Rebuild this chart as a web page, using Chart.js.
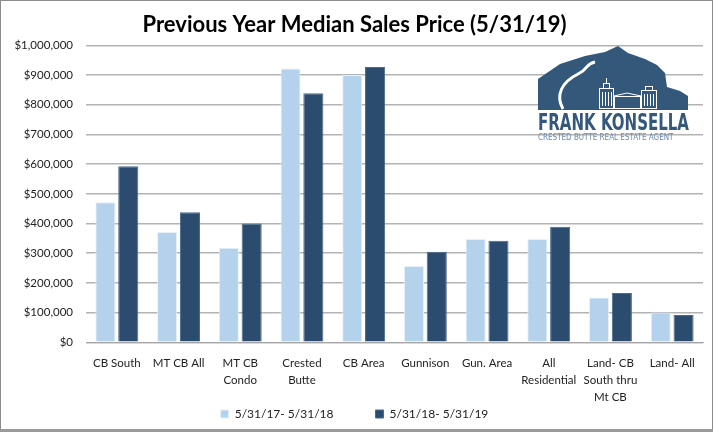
<!DOCTYPE html>
<html>
<head>
<meta charset="utf-8">
<script src="https://cdn.jsdelivr.net/npm/chart.js@4/dist/chart.umd.min.js"></script>
<style>
html,body{margin:0;padding:0;background:#fff;}
#wrap{width:713px;height:432px;position:relative;}
</style>
</head>
<body>
<div id="wrap"><canvas id="c" width="713" height="432"></canvas></div>
<script>
const categories = [
  "CB South", "MT CB All", ["MT CB", "Condo"], ["Crested", "Butte"], "CB Area",
  "Gunnison", "Gun. Area", ["All", "Residential"], ["Land- CB", "South thru", "Mt CB"], "Land- All"
];
const seriesNames = ["5/31/17- 5/31/18", "5/31/18- 5/31/19"];
const prevYear = [472000, 371000, 318000, 922000, 900000, 257000, 348000, 348000, 151000, 100000];
const currYear = [593000, 438000, 400000, 839000, 927000, 305000, 342000, 389000, 166000, 92000];
const yTicks = [0, 100000, 200000, 300000, 400000, 500000, 600000, 700000, 800000, 900000, 1000000];

const FONT = "Lato, 'Open Sans', sans-serif";
const LEGEND_PAD = 42;
const LEGEND_H = 10;

const legendFix = {
  id: 'legendFix',
  beforeUpdate(chart) {
    const lg = chart.legend;
    if (lg && !lg._fixed) {
      lg._fixed = true;
      const fit = lg.fit.bind(lg);
      lg.fit = function () { fit(); this.height = LEGEND_H; };
      const draw = lg.draw.bind(lg);
      lg.draw = function () {
        const t = this.top;
        this.top = t - LEGEND_PAD - 10;
        draw();
        this.top = t;
      };
    }
  }
};

const frame = {
  id: 'frame',
  afterDraw(chart) {
    const ctx = chart.ctx;
    ctx.save();
    ctx.fillStyle = '#34587a';
    ctx.beginPath();
    ctx.moveTo(538, 110);
    ctx.lineTo(538, 79);
    ctx.lineTo(560, 64);
    ctx.lineTo(585, 56);
    ctx.lineTo(605, 52);
    ctx.lineTo(618, 46);
    ctx.lineTo(628, 53);
    ctx.lineTo(645, 59);
    ctx.lineTo(657, 65);
    ctx.lineTo(665, 73);
    ctx.lineTo(667, 87);
    ctx.lineTo(680, 91);
    ctx.lineTo(688, 96);
    ctx.lineTo(688, 110);
    ctx.closePath();
    ctx.fill();
    ctx.strokeStyle = '#ffffff';
    ctx.lineWidth = 3;
    ctx.beginPath();
    ctx.moveTo(563, 109);
    ctx.bezierCurveTo(555, 95, 562, 82, 578, 74);
    ctx.bezierCurveTo(590, 68, 585, 64, 595, 62);
    ctx.stroke();
    ctx.lineWidth = 1;
    ctx.strokeRect(599.5, 88.5, 14, 20);
    ctx.strokeRect(603.5, 83.5, 6, 5);
    ctx.beginPath(); ctx.moveTo(606.5, 78); ctx.lineTo(606.5, 83); ctx.stroke();
    ctx.strokeRect(614.5, 96.5, 26, 12);
    ctx.beginPath(); ctx.moveTo(614, 96); ctx.lineTo(627, 93); ctx.lineTo(641, 96); ctx.stroke();
    ctx.strokeRect(641.5, 90.5, 15, 18);
    ctx.strokeRect(645.5, 86.5, 7, 4);
    for (let x = 602; x < 612; x += 3) { ctx.beginPath(); ctx.moveTo(x + 0.5, 92); ctx.lineTo(x + 0.5, 106); ctx.stroke(); }
    for (let x = 644; x < 656; x += 3) { ctx.beginPath(); ctx.moveTo(x + 0.5, 94); ctx.lineTo(x + 0.5, 106); ctx.stroke(); }
    ctx.fillStyle = '#34587a';
    ctx.textBaseline = 'alphabetic';
    ctx.textAlign = 'left';
    ctx.font = "bold 23px 'DejaVu Sans Condensed', 'DejaVu Sans', sans-serif";
    ctx.fillText('FRANK KONSELLA', 538, 130, 151);
    ctx.fillStyle = '#6a8aab';
    ctx.font = "8px 'DejaVu Sans Condensed', 'DejaVu Sans', sans-serif";
    ctx.fillText('CRESTED BUTTE REAL ESTATE AGENT', 538, 140, 151);
    ctx.strokeStyle = '#8c8c8c';
    ctx.lineWidth = 1;
    ctx.strokeRect(0.5, 0.5, 712, 430);
    ctx.fillStyle = '#9a9a9a';
    ctx.fillRect(0, 429, 713, 3);
    ctx.restore();
  }
};

new Chart(document.getElementById('c'), {
  type: 'bar',
  data: {
    labels: categories,
    datasets: [
      { label: seriesNames[0], data: prevYear, backgroundColor: '#b4d2ec', borderColor: '#e6f0fa', borderWidth: 1,
        categoryPercentage: 0.74, barPercentage: 0.88 },
      { label: seriesNames[1], data: currYear, backgroundColor: '#2b4c6f', borderColor: '#4a6a8c', borderWidth: 1,
        categoryPercentage: 0.74, barPercentage: 0.88 }
    ]
  },
  options: {
    responsive: false,
    animation: false,
    devicePixelRatio: 1,
    layout: { padding: { left: 6, right: 10, top: 0, bottom: 4 } },
    plugins: {
      title: {
        display: true,
        text: 'Previous Year Median Sales Price (5/31/19)',
        color: '#000',
        font: { family: FONT, size: 22, weight: 'bold' },
        padding: { top: 12, bottom: 7 }
      },
      legend: {
        position: 'bottom',
        labels: {
          color: '#222',
          font: { family: FONT, size: 12 },
          boxWidth: 8, boxHeight: 8,
          padding: LEGEND_PAD
        }
      },
      tooltip: { enabled: false }
    },
    scales: {
      x: {
        grid: { display: false, drawTicks: false },
        border: { color: '#a6a6a6', width: 1 },
        ticks: {
          color: '#222', font: { family: FONT, size: 11.5, lineHeight: 1.5 }, maxRotation: 0, autoSkip: false, padding: 12
        }
      },
      y: {
        min: 0, max: 1000000,
        afterBuildTicks(scale) { scale.ticks = yTicks.map(v => ({ value: v })); },
        afterFit(scale) { scale.width = 80; },
        grid: { color: '#b3b3b3', lineWidth: 1.5, drawTicks: false },
        border: { display: false },
        ticks: {
          color: '#222', font: { family: FONT, size: 11.5 }, padding: 13,
          callback: v => '$' + v.toLocaleString('en-US')
        }
      }
    }
  },
  plugins: [legendFix, frame]
});
</script>
</body>
</html>
